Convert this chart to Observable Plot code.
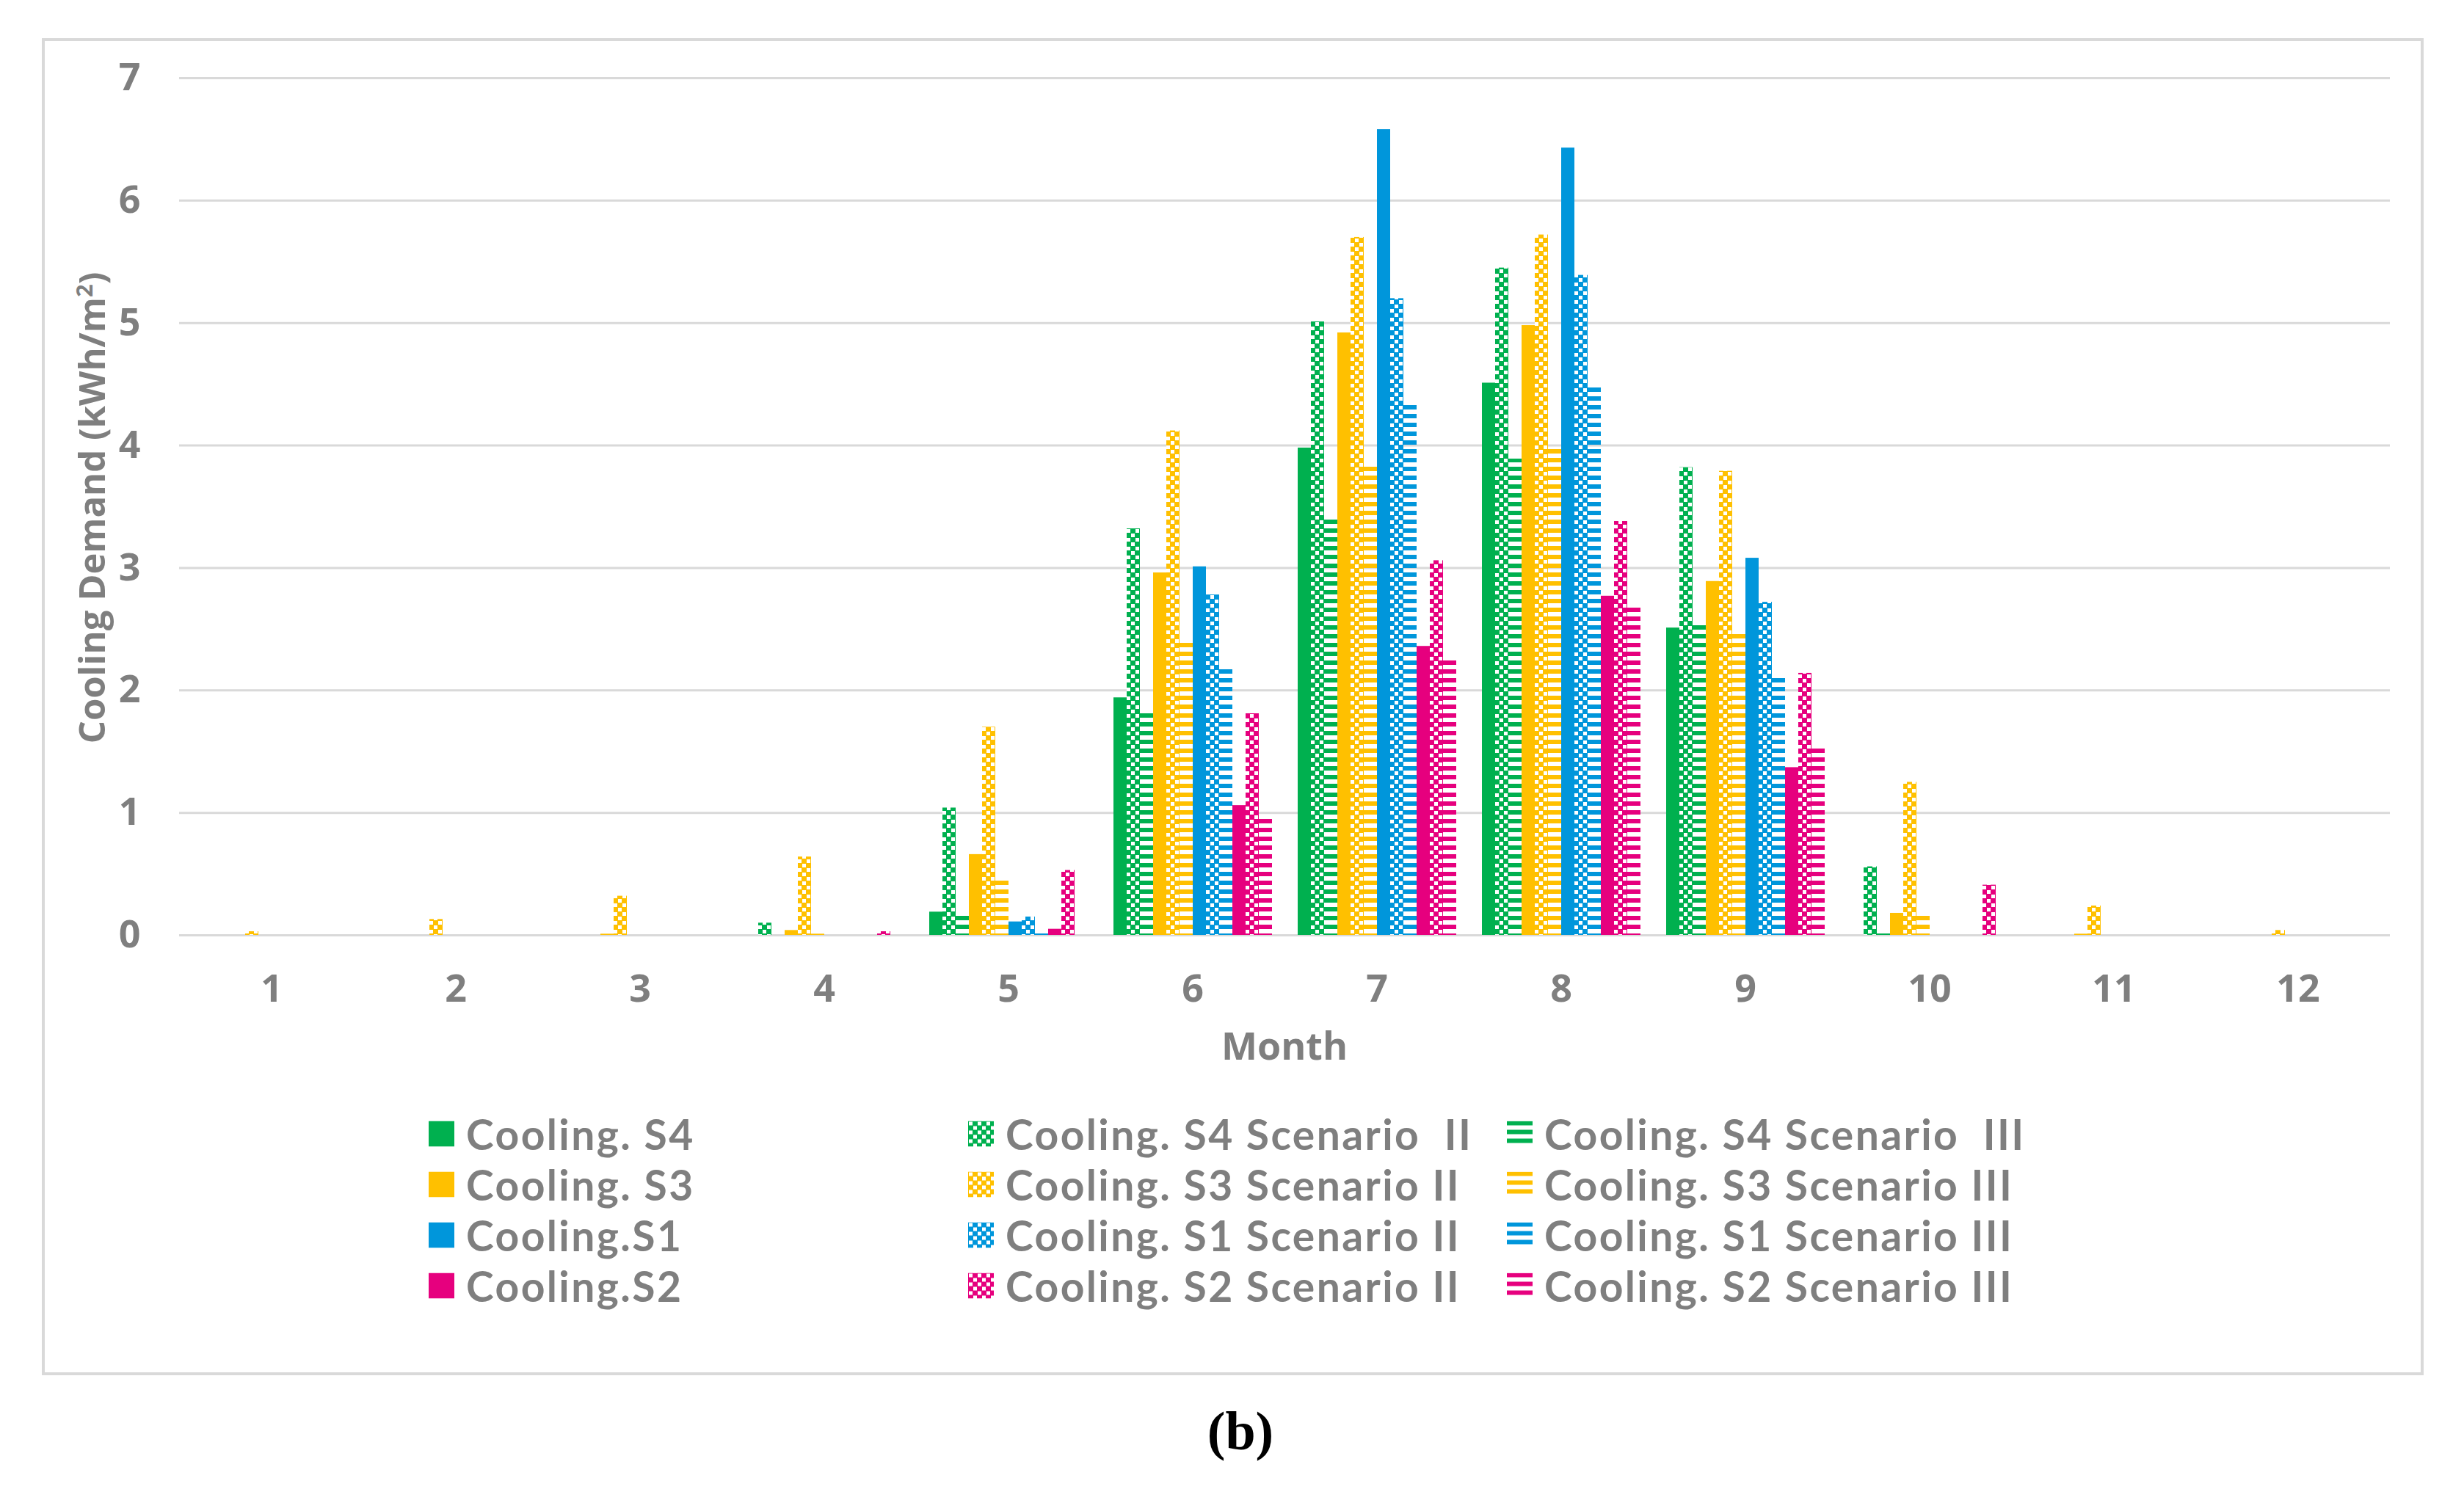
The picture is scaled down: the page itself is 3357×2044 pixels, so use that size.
<!DOCTYPE html>
<html>
<head>
<meta charset="utf-8">
<script src="https://cdn.jsdelivr.net/npm/d3@7"></script>
<script src="https://cdn.jsdelivr.net/npm/@observablehq/plot@0.6"></script>
<style>
  body { margin: 0; background: #fff; }
  #page { position: relative; width: 3357px; height: 2044px; font-family: "Open Sans", sans-serif; color: #7f7f7f; }
  #frame { position: absolute; left: 57px; top: 52px; width: 3245px; height: 1822px; border: 4px solid #d9d9d9; box-sizing: border-box; }
  #chart { position: absolute; left: 0; top: 0; }
  .ylab { position: absolute; left: 124px; top: 692px; transform: translate(-50%, -50%) rotate(-90deg); font-size: 49px; font-weight: 700; white-space: nowrap; }
  .xlab { position: absolute; left: 1750px; top: 1423px; transform: translate(-50%, -50%); font-size: 52px; font-weight: 700; }
  .item { position: absolute; display: flex; align-items: center; transform: translateY(-50%); }
  .item svg { display: block; margin-right: 16px; }
  .item span { font-family: Lato, sans-serif; font-size: 57px; font-weight: 700; line-height: 1; letter-spacing: 2.4px; white-space: pre; }
  .cap { position: absolute; left: 1690px; top: 1950px; transform: translate(-50%, -50%); font-family: "Liberation Serif", serif; font-size: 74px; font-weight: bold; color: #000; }
</style>
</head>
<body>
<svg width="0" height="0" style="position:absolute"><defs id="pats"></defs></svg>
<div id="page">
  <div id="frame"></div>
  <div id="chart"></div>
  <div class="ylab">Cooling Demand (kWh/m<sup style="font-size:31px">2</sup>)</div>
  <div class="xlab">Month</div>
  <div id="legend"></div>
  <div class="cap">(b)</div>
</div>
<script>
// months and series
const months = [1, 2, 3, 4, 5, 6, 7, 8, 9, 10, 11, 12]
const yTicks = [0, 1, 2, 3, 4, 5, 6, 7]

const seriesNames = [
  "Cooling. S4", "Cooling. S4 Scenario  II", "Cooling. S4 Scenario  III",
  "Cooling. S3", "Cooling. S3 Scenario II", "Cooling. S3 Scenario III",
  "Cooling.S1", "Cooling. S1 Scenario II", "Cooling. S1 Scenario III",
  "Cooling.S2", "Cooling. S2 Scenario II", "Cooling. S2 Scenario III"
]

// values, kWh/m2 per month
const s4     = [0, 0, 0, 0, 0.19, 1.94, 3.98, 4.51, 2.51, 0, 0, 0]
const s4II   = [0, 0, 0, 0.10, 1.04, 3.32, 5.01, 5.45, 3.82, 0.56, 0, 0]
const s4III  = [0, 0, 0, 0, 0.17, 1.84, 3.42, 3.89, 2.56, 0.04, 0, 0]
const s3     = [0, 0, 0.01, 0.04, 0.66, 2.96, 4.92, 4.98, 2.89, 0.18, 0.01, 0]
const s3II   = [0.03, 0.13, 0.32, 0.64, 1.70, 4.12, 5.70, 5.72, 3.79, 1.25, 0.24, 0.04]
const s3III  = [0, 0, 0, 0.01, 0.47, 2.40, 3.85, 3.98, 2.48, 0.19, 0, 0]
const s1     = [0, 0, 0, 0, 0.11, 3.01, 6.58, 6.43, 3.08, 0, 0, 0]
const s1II   = [0, 0, 0, 0, 0.15, 2.78, 5.20, 5.39, 2.72, 0, 0, 0]
const s1III  = [0, 0, 0, 0, 0.03, 2.20, 4.34, 4.48, 2.13, 0, 0, 0]
const s2     = [0, 0, 0, 0, 0.05, 1.06, 2.36, 2.77, 1.37, 0, 0, 0]
const s2II   = [0, 0, 0, 0.03, 0.53, 1.81, 3.06, 3.38, 2.14, 0.41, 0, 0]
const s2III  = [0, 0, 0, 0, 0, 0.97, 2.27, 2.70, 1.54, 0, 0, 0]

const seriesValues = [s4, s4II, s4III, s3, s3II, s3III, s1, s1II, s1III, s2, s2II, s2III]

const baseColors = ["#00b04f", "#00b04f", "#00b04f", "#ffc000", "#ffc000", "#ffc000",
                    "#0096db", "#0096db", "#0096db", "#e6007e", "#e6007e", "#e6007e"]
const kinds = ["solid", "check", "dash", "solid", "check", "dash", "solid", "check", "dash", "solid", "check", "dash"]

// patterns for scenario II (checker) and III (horizontal dashes)
const defs = d3.select("#pats")
const fills = seriesNames.map((s, i) => {
  const c = baseColors[i]
  if (kinds[i] == "solid") return c
  const id = "pat" + i
  const p = defs.append("pattern").attr("id", id).attr("patternUnits", "userSpaceOnUse")
  if (kinds[i] == "check") {
    p.attr("width", 12).attr("height", 12)
    p.append("rect").attr("width", 12).attr("height", 12).attr("fill", c)
    p.append("rect").attr("x", 1).attr("y", 1).attr("width", 5).attr("height", 5).attr("fill", "#fff")
    p.append("rect").attr("x", 7).attr("y", 7).attr("width", 5).attr("height", 5).attr("fill", "#fff")
  } else {
    p.attr("width", 12).attr("height", 12)
    p.append("rect").attr("width", 12).attr("height", 6).attr("fill", c)
  }
  return "url(#" + id + ")"
})

const rows = months.flatMap((m, j) => seriesNames.map((s, i) => ({month: m, series: s, value: seriesValues[i][j]})))

let chart = Plot.plot({
  width: 3357,
  height: 1460,
  marginLeft: 241,
  marginRight: 98,
  marginTop: 106,
  marginBottom: 186,
  fx: { domain: months, padding: 0, label: null, axis: "bottom", tickSize: 0, tickPadding: 54 },
  x: { domain: seriesNames, paddingInner: 0, paddingOuter: 0.83, axis: null },
  y: { domain: [0, 7], ticks: yTicks, tickFormat: d3.format("d"), tickSize: 0, tickPadding: 53, label: null },
  color: { domain: seriesNames, range: fills },
  style: { fontFamily: "Open Sans", fontSize: "52px", fontWeight: 700, color: "#7f7f7f", background: "transparent", overflow: "visible" },
  marks: [
    Plot.ruleY(yTicks, { stroke: "#d9d9d9", strokeWidth: 3 }),
    Plot.barY(rows, { fx: "month", x: "series", y: "value", fill: "series" })
  ]
})
d3.select("#chart").append(() => chart)

// legend, three columns, filled row by row
const colX = [584, 1319, 2053]
const rowY = [1545, 1614, 1683, 1752]
const legend = d3.select("#legend")
seriesNames.forEach((s, i) => {
  const item = legend.append("div").attr("class", "item")
    .style("left", colX[i % 3] + "px").style("top", rowY[Math.floor(i / 3)] + "px")
  const sw = item.append("svg").attr("width", 35).attr("height", 35)
  sw.append("rect").attr("width", 35).attr("height", 35).attr("fill", fills[i])
  item.append("span").text(s)
})
</script>
</body>
</html>
